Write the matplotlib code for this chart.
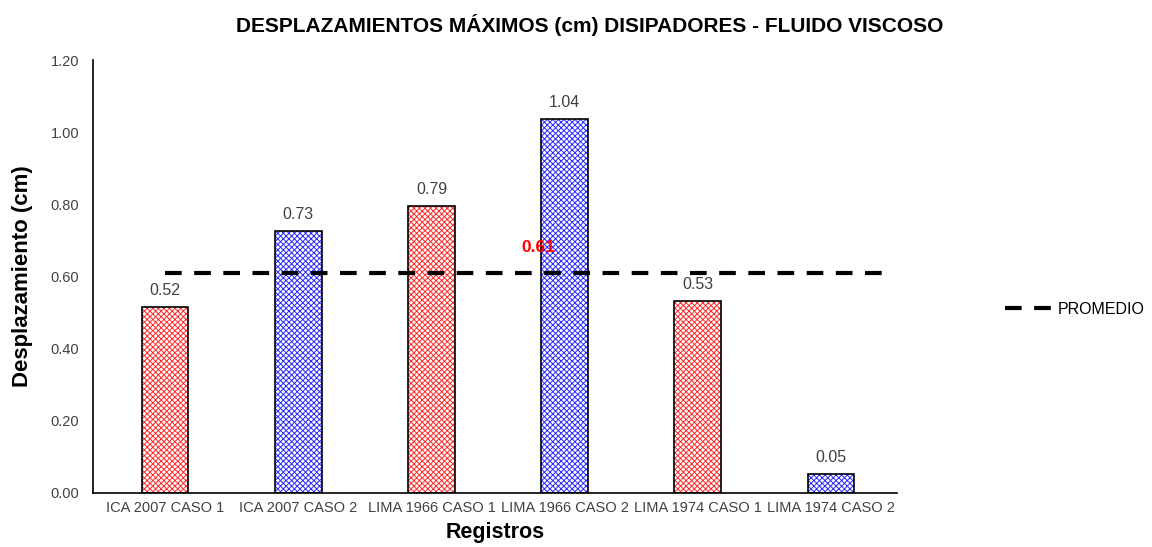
import matplotlib.pyplot as plt
import numpy as np

plt.rcParams['font.family'] = ['Liberation Sans', 'DejaVu Sans']

registros = ["ICA 2007 CASO 1", "ICA 2007 CASO 2", "LIMA 1966 CASO 1",
             "LIMA 1966 CASO 2", "LIMA 1974 CASO 1", "LIMA 1974 CASO 2"]
desplazamientos = [0.515, 0.725, 0.795, 1.037, 0.532, 0.052]
etiquetas = ["0.52", "0.73", "0.79", "1.04", "0.53", "0.05"]
colores = ["#ff2a2a", "#2a2aff", "#ff2a2a", "#2a2aff", "#ff2a2a", "#2a2aff"]
promedio = 0.61

fig = plt.figure(figsize=(11.52, 5.47), dpi=100)
ax = fig.add_axes([0.081, 0.099, 0.698, 0.791])

x = np.arange(len(registros))
ancho = 0.35
plt.rcParams['hatch.linewidth'] = 0.7
# relleno con trama de color, luego borde negro
ax.bar(x, desplazamientos, ancho, color="white", edgecolor=colores,
       hatch="xxxxxx", linewidth=0, zorder=2)
ax.bar(x, desplazamientos, ancho, color="none", edgecolor="black",
       linewidth=1.2, zorder=3)

for xi, v, t in zip(x, desplazamientos, etiquetas):
    ax.text(xi, v + 0.025, t, ha="center", va="bottom", fontsize=11.5, color="#404040")

ax.plot([0, 5.45], [promedio, promedio], color="black", lw=3,
        dashes=(4, 3), zorder=4, label="PROMEDIO")
ax.text(2.8, promedio + 0.05, "0.61", color="red", fontsize=12.5,
        fontweight="bold", ha="center", va="bottom")

ax.set_xlim(-0.54, 5.5)
ax.set_ylim(0, 1.2)
ax.set_yticks(np.arange(0, 1.21, 0.2))
ax.set_yticklabels([f"{v:.2f}" for v in np.arange(0, 1.21, 0.2)])
ax.set_xticks(x)
ax.set_xticklabels(registros)
ax.tick_params(axis="both", length=0, labelsize=10.5, labelcolor="#404040")
ax.tick_params(axis="y", pad=10)
ax.tick_params(axis="x", pad=6)
for s in ["top", "right"]:
    ax.spines[s].set_visible(False)
ax.spines["left"].set_linewidth(1.2)
ax.spines["bottom"].set_linewidth(1.2)

ax.set_ylabel("Desplazamiento (cm)", fontsize=16, fontweight="bold", labelpad=13)
ax.set_xlabel("Registros", fontsize=15.5, fontweight="bold", labelpad=5)
fig.suptitle("DESPLAZAMIENTOS MÁXIMOS (cm) DISIPADORES - FLUIDO VISCOSO",
             fontsize=15, fontweight="bold", y=0.975, x=0.512)

fig.legend(loc="center left", bbox_to_anchor=(0.86, 0.435), frameon=False,
           fontsize=11.5, handlelength=3, handletextpad=0.3)

fig.savefig("out.png", dpi=100)
